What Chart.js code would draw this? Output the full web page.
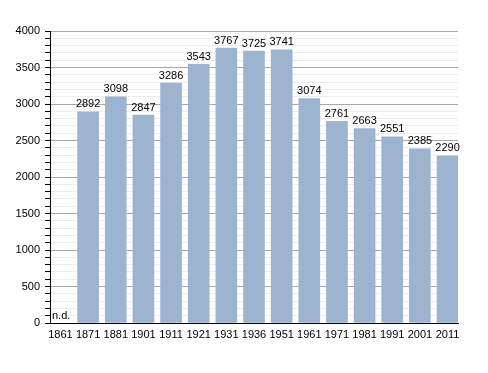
<!DOCTYPE html>
<html>
<head>
<meta charset="utf-8">
<script src="https://cdn.jsdelivr.net/npm/chart.js@4"></script>
<style>
html,body{margin:0;padding:0;background:#fff;}
#wrap{width:488px;height:373px;}
</style>
</head>
<body>
<div id="wrap"><canvas id="c" width="488" height="373"></canvas></div>
<script>
const years = ["1861","1871","1881","1901","1911","1921","1931","1936","1951","1961","1971","1981","1991","2001","2011"];
const population = [null,2892,3098,2847,3286,3543,3767,3725,3741,3074,2761,2663,2551,2385,2290];
const missingLabel = "n.d.";
const yMax = 4000;
const yStep = 100;
const yLabelStep = 500;

const FONT = "'Liberation Sans', Arial, sans-serif";
const points = population.map((v, i) => ({ x: i, y: v }));

const labelPlugin = {
  id: 'barLabels',
  afterDatasetsDraw(chart) {
    const ctx = chart.ctx;
    const meta = chart.getDatasetMeta(0);
    ctx.save();
    ctx.font = "11px " + FONT;
    ctx.fillStyle = "#000";
    meta.data.forEach((el, i) => {
      const v = population[i];
      if (v === null) {
        const yb = chart.scales.y.getPixelForValue(0);
        ctx.textAlign = 'left';
        ctx.textBaseline = 'bottom';
        ctx.fillText(missingLabel, chart.chartArea.left + 2, yb - 2);
      } else {
        ctx.textAlign = 'center';
        ctx.textBaseline = 'bottom';
        ctx.fillText(String(v), el.x, el.y - 2);
      }
    });
    ctx.restore();
  }
};

new Chart(document.getElementById('c'), {
  type: 'bar',
  data: {
    datasets: [{
      data: points,
      backgroundColor: '#9cb4cf',
      borderWidth: 0,
      barThickness: 21
    }]
  },
  options: {
    responsive: false,
    animation: false,
    devicePixelRatio: 1,
    layout: { padding: { left: 0, right: 30, top: 31, bottom: 0 } },
    plugins: { legend: { display: false }, tooltip: { enabled: false } },
    scales: {
      x: {
        type: 'linear',
        min: -0.379,
        max: 14.379,
        offset: false,
        grid: { display: false, drawTicks: false },
        border: { display: true, color: '#000', width: 1 },
        ticks: {
          stepSize: 1,
          includeBounds: false,
          autoSkip: false,
          maxRotation: 0,
          color: '#000',
          font: { family: FONT, size: 11 },
          padding: 5,
          callback: (v) => Number.isInteger(v) && years[v] !== undefined ? years[v] : ''
        },
        afterFit(s) { s.height = 50; }
      },
      y: {
        min: 0, max: yMax,
        grid: {
          color: (c) => (c.tick && c.tick.value % yLabelStep === 0) ? '#a8a8a8' : '#ececec',
          tickColor: '#000',
          tickLength: 5,
          drawTicks: true
        },
        border: { display: true, color: '#000', width: 1 },
        ticks: {
          stepSize: yStep,
          autoSkip: false,
          color: '#000',
          font: { family: FONT, size: 11 },
          padding: 5,
          callback: (v) => (v % yLabelStep === 0) ? String(v) : ''
        },
        afterFit(s) { s.width = 50; }
      }
    }
  },
  plugins: [labelPlugin]
});
</script>
</body>
</html>
